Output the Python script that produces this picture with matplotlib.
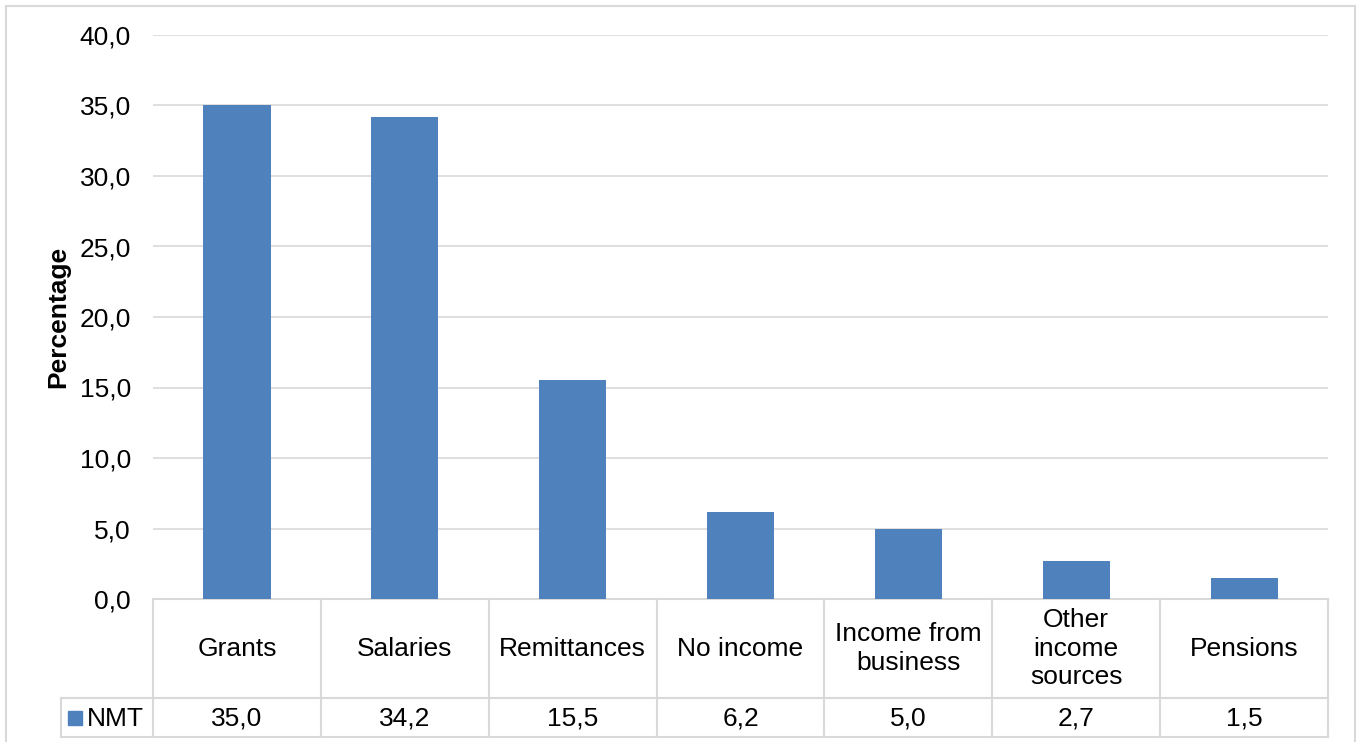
import matplotlib
matplotlib.use("Agg")
import matplotlib.pyplot as plt
from matplotlib.lines import Line2D
from matplotlib.patches import Rectangle
import matplotlib.transforms as mtransforms

categories = ["Grants", "Salaries", "Remittances", "No income",
              "Income from\nbusiness", "Other\nincome\nsources", "Pensions"]
values = [35.0, 34.2, 15.5, 6.2, 5.0, 2.7, 1.5]
series_name = "NMT"
yticks = [0, 5, 10, 15, 20, 25, 30, 35, 40]

W, H = 1362, 742
BAR = "#4F81BD"
GRID = "#D9D9D9"
FS = 19

plt.rcParams["font.family"] = ["Liberation Sans", "DejaVu Sans"]

fig = plt.figure(figsize=(W / 100, H / 100), dpi=100)
ax = fig.add_axes([153 / W, 1 - 599 / H, (1328 - 153) / W, (599 - 35) / H])

x = list(range(len(categories)))
ax.bar(x, values, width=0.4, color=BAR, zorder=3)
ax.set_xlim(-0.5, len(categories) - 0.5)
ax.set_ylim(0, 40)
ax.set_yticks(yticks)
ax.set_yticklabels([f"{v:.1f}".replace(".", ",") for v in yticks], fontsize=FS)
ax.tick_params(axis="y", length=0, pad=16)
ax.set_xticks([])
ax.grid(axis="y", color=GRID, linewidth=1.2, zorder=0)
for s in ax.spines.values():
    s.set_visible(False)
ax.set_ylabel("Percentage", fontsize=FS, fontweight="bold")
ax.yaxis.set_label_coords(-0.070, 0.5)

# Data table beneath the plot area (x in data units, y in pixels)
trans = mtransforms.blended_transform_factory(ax.transData, fig.transFigure)
def fy(py):
    return 1 - py / H

top, mid, bot = 599, 698, 737
legend_left = -0.5 - 92 / 168
lw = 1.5
n = len(categories)
ax.add_line(Line2D([-0.5, n - 0.5], [fy(top)] * 2, color=GRID, lw=lw,
                   transform=trans, clip_on=False))
for yy in (mid, bot):
    ax.add_line(Line2D([legend_left, n - 0.5], [fy(yy)] * 2, color=GRID, lw=lw,
                       transform=trans, clip_on=False))
for b in range(n + 1):
    ax.add_line(Line2D([b - 0.5] * 2, [fy(top), fy(bot)], color=GRID, lw=lw,
                       transform=trans, clip_on=False))
ax.add_line(Line2D([legend_left] * 2, [fy(mid), fy(bot)], color=GRID, lw=lw,
                   transform=trans, clip_on=False))

for i, (c, v) in enumerate(zip(categories, values)):
    ax.text(i, fy((top + mid) / 2), c, transform=trans, ha="center", va="center",
            fontsize=FS, linespacing=1.25, clip_on=False)
    ax.text(i, fy((mid + bot) / 2 + 1), f"{v:.1f}".replace(".", ","), transform=trans,
            ha="center", va="center", fontsize=FS, clip_on=False)

# Legend key inside the first table row
fig.patches.append(Rectangle((68 / W, fy(725)), 14 / W, 14 / H, color=BAR,
                             transform=fig.transFigure))
fig.text(87 / W, fy((mid + bot) / 2 + 1), series_name, ha="left", va="center", fontsize=FS)

# Chart area frame
for xs, ys in (([6, 6], [6, H]), ([6, 1355], [6, 6]), ([1355, 1355], [6, H])):
    fig.add_artist(Line2D([p / W for p in xs], [fy(p) for p in ys],
                          color=GRID, lw=1.5, transform=fig.transFigure))

fig.savefig("out.png", dpi=100)
